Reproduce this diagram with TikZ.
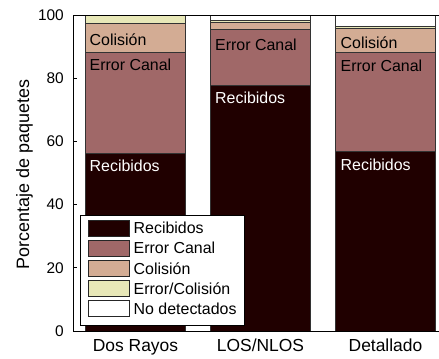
\documentclass[tikz,border=0pt]{standalone}
\usepackage{fontspec}
\setmainfont{Liberation Sans}
\definecolor{cRecib}{RGB}{32,0,0}
\definecolor{cCanal}{RGB}{160,104,104}
\definecolor{cColis}{RGB}{211,172,148}
\definecolor{cErrCol}{RGB}{232,232,184}
\begin{document}
\begin{tikzpicture}[x=1bp,y=-1bp,
  seg/.style={draw=black!80, line width=0.6bp},
  inlbl/.style={font=\fontsize{16}{16}\selectfont, inner sep=0pt, anchor=base west},
  ytick/.style={font=\fontsize{15.5}{15.5}\selectfont, inner sep=0pt, anchor=east},
  xtick/.style={font=\fontsize{17.5}{17.5}\selectfont, inner sep=0pt, anchor=base},
  swatch/.style={draw=black!85, line width=0.8bp},
  legtxt/.style={font=\fontsize{16}{16}\selectfont, inner sep=0pt, anchor=west}]
\useasboundingbox (0,0) rectangle (439,358);

% --- stacked bars (pixel y = 331 - 3.16*value) ---
% Dos Rayos
\path[seg, fill=cRecib]  (85.5,331)   rectangle (185.5,152.8);
\path[seg, fill=cCanal]  (85.5,152.8) rectangle (185.5,52.3);
\path[seg, fill=cColis]  (85.5,52.3)  rectangle (185.5,23.2);
\path[seg, fill=cErrCol] (85.5,23.2)  rectangle (185.5,15);
% LOS/NLOS
\path[seg, fill=cRecib]  (210.5,331)  rectangle (310.5,85.2);
\path[seg, fill=cCanal]  (210.5,85.2) rectangle (310.5,29.5);
\path[seg, fill=cColis]  (210.5,29.5) rectangle (310.5,22.3);
\path[seg, fill=cErrCol] (210.5,22.3) rectangle (310.5,20.7);
\path[seg, fill=white]   (210.5,20.7) rectangle (310.5,15);
% Detallado
\path[seg, fill=cRecib]  (335.5,331)  rectangle (435.5,151.5);
\path[seg, fill=cCanal]  (335.5,151.5) rectangle (435.5,52.6);
\path[seg, fill=cColis]  (335.5,52.6) rectangle (435.5,28.3);
\path[seg, fill=cErrCol] (335.5,28.3) rectangle (435.5,26.7);
\path[seg, fill=white]   (335.5,26.7) rectangle (435.5,15);

% --- labels inside the bars ---
\node[inlbl] (b1col) at (89.5,45.5) {Colisión};
\node[inlbl] (b1can) at (89.5,70) {Error Canal};
\node[inlbl, text=white] (b1rec) at (89.5,171) {Recibidos};
\node[inlbl] (b2can) at (215,50) {Error Canal};
\node[inlbl, text=white] (b2rec) at (215,103.3) {Recibidos};
\node[inlbl] (b3col) at (340.5,48.3) {Colisión};
\node[inlbl] (b3can) at (340.5,71.5) {Error Canal};
\node[inlbl, text=white] (b3rec) at (340.5,170) {Recibidos};

% --- axes ---
\draw[line width=0.8bp] (73,15) -- (73,331) -- (439,331);
\draw[line width=0.8bp] (73,15) -- (439,15);
\foreach \v/\yy in {0/331,20/267.8,40/204.6,60/141.4,80/78.2,100/15}{
  \draw[line width=0.8bp] (73,\yy) -- (77,\yy);
  \node[ytick] (yt\v) at (64,\yy) {\v};
}
\node[xtick] (xt1) at (135.5,351.7) {Dos Rayos};
\node[xtick] (xt2) at (260.5,351.7) {LOS/NLOS};
\node[xtick] (xt3) at (385.5,351.7) {Detallado};
\node[font=\fontsize{18}{18}\selectfont, inner sep=0pt, rotate=90, anchor=base]
  (ylab) at (29,174.5) {Porcentaje de paquetes};

% --- legend ---
\path[draw=black, line width=0.8bp, fill=white] (80.5,215) rectangle (244,325.5);
\foreach \c/\t/\yy [count=\i] in {cRecib/Recibidos/228, cCanal/Error Canal/248.2,
    cColis/Colisión/268.4, cErrCol/Error\slash Colisión/288.6, white/No detectados/308.8}{
  \path[swatch, fill=\c] (88,\yy-8) rectangle (129,\yy+8);
  \node[legtxt] (lg\i) at (133.5,\yy) {\t};
}
\end{tikzpicture}
\end{document}
